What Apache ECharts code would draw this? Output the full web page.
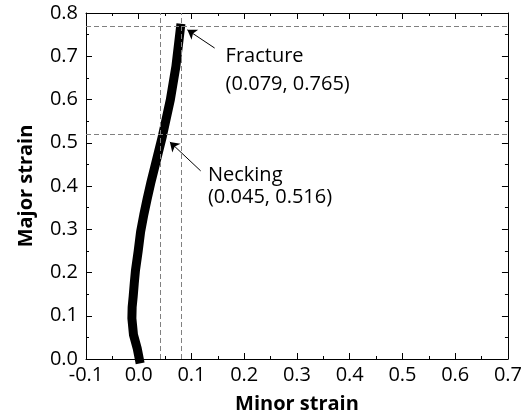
<!DOCTYPE html>
<html>
<head>
<meta charset="utf-8">
<script src="https://cdn.jsdelivr.net/npm/echarts@6/dist/echarts.min.js"></script>
<style>
  html, body { margin: 0; padding: 0; background: #fff; }
  #chart { width: 525px; height: 419px; }
</style>
</head>
<body>
<div id="chart"></div>
<script>
// Forming path: minor strain vs. major strain
const minorStrain = [0.001, -0.003, -0.010, -0.013, -0.0125, -0.0105, -0.0085, -0.0062, -0.001, 0.0035, 0.0095, 0.0159, 0.023, 0.031, 0.045, 0.060, 0.0705, 0.079];
const majorStrain = [0.000, 0.025, 0.056, 0.094, 0.120, 0.145, 0.175, 0.205, 0.250, 0.294, 0.333, 0.370, 0.408, 0.447, 0.516, 0.600, 0.677, 0.765];

// Marked points on the path
const neckingPoint = [0.045, 0.516];
const fracturePoint = [0.079, 0.765];
const noteTitles = ['Necking', 'Fracture'];

// Axis ticks
const xTicks = [-0.1, 0.0, 0.1, 0.2, 0.3, 0.4, 0.5, 0.6, 0.7];
const yTicks = [0.0, 0.1, 0.2, 0.3, 0.4, 0.5, 0.6, 0.7, 0.8];

const FONT = 'Open Sans';
const fmt = v => v.toFixed(1);
const pathData = minorStrain.map((x, i) => [x, majorStrain[i]]);

function axisBase(show, min, max, step) {
  return {
    type: 'value',
    min: min, max: max, interval: step,
    axisLine: { show: true, onZero: false, lineStyle: { color: '#000', width: 1 } },
    axisTick: { show: true, inside: true, length: 6, lineStyle: { color: '#000', width: 1 } },
    minorTick: { show: true, splitNumber: 2, length: 3, lineStyle: { color: '#000', width: 1 } },
    splitLine: { show: false },
    minorSplitLine: { show: false },
    axisLabel: { show: show, color: '#000', fontFamily: FONT, fontSize: 20, formatter: fmt }
  };
}

const xStep = +(xTicks[1] - xTicks[0]).toFixed(3);
const yStep = +(yTicks[1] - yTicks[0]).toFixed(3);
const xMin = xTicks[0], xMax = xTicks[xTicks.length - 1];
const yMin = yTicks[0], yMax = yTicks[yTicks.length - 1];

const dashStyle = { color: '#808080', width: 1, type: [5, 3] };
const arrowStyle = { color: '#000', width: 1, type: 'solid' };

const chart = echarts.init(document.getElementById('chart'), null, { renderer: 'canvas' });

const option = {
  animation: false,
  backgroundColor: '#fff',
  grid: { left: 86, right: 16, top: 13, bottom: 58, containLabel: false },
  xAxis: [
    Object.assign(axisBase(true, xMin, xMax, xStep), {
      position: 'bottom',
      name: 'Minor strain', nameLocation: 'middle', nameGap: 35,
      nameTextStyle: { color: '#000', fontFamily: FONT, fontSize: 20, fontWeight: 'bold' },
      axisLabel: { show: true, color: '#000', fontFamily: FONT, fontSize: 20, formatter: fmt, margin: 6 }
    }),
    Object.assign(axisBase(false, xMin, xMax, xStep), { position: 'top' })
  ],
  yAxis: [
    Object.assign(axisBase(true, yMin, yMax, yStep), {
      position: 'left',
      name: 'Major strain', nameLocation: 'middle', nameGap: 50,
      nameTextStyle: { color: '#000', fontFamily: FONT, fontSize: 20, fontWeight: 'bold' },
      axisLabel: { show: true, color: '#000', fontFamily: FONT, fontSize: 20, formatter: fmt, margin: 8 }
    }),
    Object.assign(axisBase(false, yMin, yMax, yStep), { position: 'right' })
  ],
  series: [
    {
      // guide lines through the necking and fracture points
      type: 'line', xAxisIndex: 0, yAxisIndex: 0, data: [], z: 1,
      markLine: {
        silent: true, symbol: ['none', 'none'], label: { show: false },
        lineStyle: dashStyle,
        data: [
          { xAxis: neckingPoint[0] }, { xAxis: fracturePoint[0] },
          { yAxis: neckingPoint[1] }, { yAxis: fracturePoint[1] }
        ]
      }
    },
    {
      type: 'line', name: 'path', xAxisIndex: 0, yAxisIndex: 0, z: 3,
      data: pathData, smooth: false, showSymbol: false, symbol: 'none', clip: false,
      lineStyle: { color: '#000', width: 9, cap: 'square', join: 'round' }
    },
    {
      // annotation arrows
      type: 'line', xAxisIndex: 0, yAxisIndex: 0, data: [], z: 4,
      markLine: {
        silent: true, label: { show: false }, symbol: ['none', 'arrow'], symbolSize: 9,
        lineStyle: arrowStyle,
        data: [
          [{ coord: [0.1174, 0.435] }, { coord: [0.0590, 0.502] }],
          [{ coord: [0.1439, 0.719] }, { coord: [0.0922, 0.761] }]
        ]
      }
    }
  ]
};
chart.setOption(option);

// Annotation text placed in data space
function noteText(pos, text) {
  const p = chart.convertToPixel({ gridIndex: 0 }, pos);
  return {
    type: 'text', x: p[0], y: p[1], z: 10,
    style: { text: text, fill: '#000', font: '20px "' + FONT + '"', textAlign: 'left', textVerticalAlign: 'middle' }
  };
}
const pairLabel = pt => '(' + pt[0].toFixed(3) + ', ' + pt[1].toFixed(3) + ')';
chart.setOption({
  graphic: [
    noteText([0.1312, 0.4240], noteTitles[0]),
    noteText([0.1312, 0.373], pairLabel(neckingPoint)),
    noteText([0.1647, 0.699], noteTitles[1]),
    noteText([0.1647, 0.635], pairLabel(fracturePoint))
  ]
});
</script>
</body>
</html>
